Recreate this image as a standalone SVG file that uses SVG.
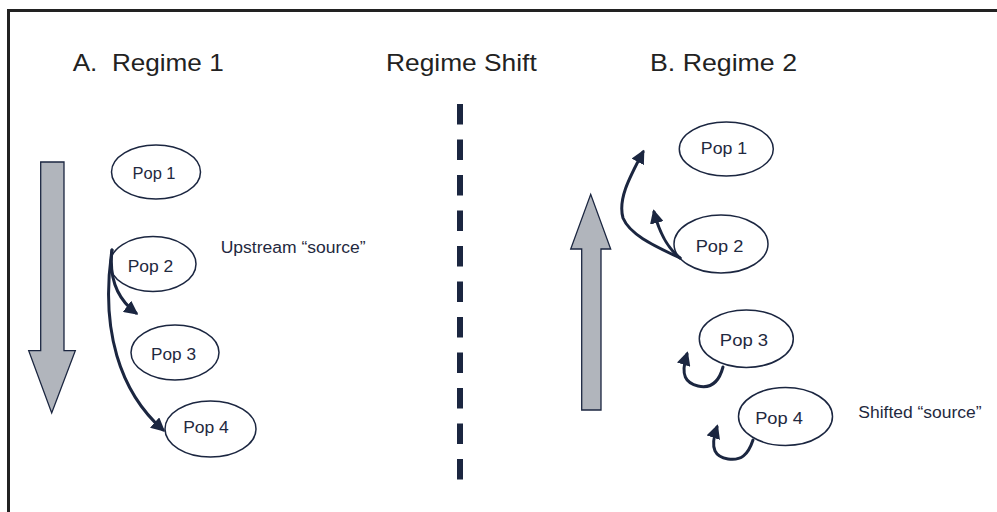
<svg xmlns="http://www.w3.org/2000/svg" width="997" height="512" viewBox="0 0 997 512">
<defs>
<style>
.title{font-family:"Liberation Sans",Arial,sans-serif;font-size:24px;fill:#222;}
.lbl{font-family:"Liberation Sans",Arial,sans-serif;font-size:16px;fill:#1f2940;}
.pop ellipse{fill:#fff;stroke:#1b2640;stroke-width:1.5;}
.pop text{font-family:"Liberation Sans",Arial,sans-serif;font-size:16px;fill:#1f2940;text-anchor:middle;}
.big{fill:#b1b5bc;stroke:#1b2640;stroke-width:1.3;}
.conn path{fill:none;stroke:#1b2640;stroke-width:3;stroke-linecap:round;marker-end:url(#ah);}
</style>
<marker id="ah" viewBox="0 0 10 10" refX="8" refY="5" markerWidth="14" markerHeight="14" markerUnits="userSpaceOnUse" orient="auto">
<path d="M0,0 L10,5 L0,10 z" fill="#1b2640"/>
</marker>
</defs>
<rect width="997" height="512" fill="#fff"/>
<rect x="8.5" y="10.5" width="1000" height="520" fill="none" stroke="#222" stroke-width="3"/>

<text class="title" x="72.7" y="70.7" xml:space="preserve" textLength="151" lengthAdjust="spacingAndGlyphs">A.  Regime 1</text>
<text class="title" x="386" y="70.7" textLength="150.7" lengthAdjust="spacingAndGlyphs">Regime Shift</text>
<text class="title" x="650" y="70.7" textLength="147" lengthAdjust="spacingAndGlyphs">B. Regime 2</text>

<line x1="460" y1="104" x2="460" y2="480" stroke="#1b2640" stroke-width="6" stroke-dasharray="20.5 15"/>

<polygon class="big" points="40.7,162 64,162 64,350.7 75.3,350.7 51.7,413 28.7,350.7 40.7,350.7"/>
<polygon class="big" points="581.7,410 601,410 601,249 610.7,249 590.7,194.3 570.7,249 581.7,249"/>

<text class="lbl" x="220.7" y="253" textLength="145" lengthAdjust="spacingAndGlyphs">Upstream “source”</text>
<text class="lbl" x="858.3" y="418" textLength="123.3" lengthAdjust="spacingAndGlyphs">Shifted “source”</text>

<g id="a-pop1" class="pop"><ellipse cx="156" cy="172" rx="44.5" ry="27"/><text x="154" y="179" textLength="43" lengthAdjust="spacingAndGlyphs">Pop 1</text></g>
<g id="a-pop2" class="pop"><ellipse cx="153" cy="264" rx="43" ry="27.5"/><text x="150.5" y="271.7" textLength="45.6" lengthAdjust="spacingAndGlyphs">Pop 2</text></g>
<g id="a-pop3" class="pop"><ellipse cx="175" cy="352.5" rx="44" ry="27.5"/><text x="173.5" y="360" textLength="45" lengthAdjust="spacingAndGlyphs">Pop 3</text></g>
<g id="a-pop4" class="pop"><ellipse cx="210.5" cy="429" rx="45.5" ry="28"/><text x="206" y="433" textLength="45.7" lengthAdjust="spacingAndGlyphs">Pop 4</text></g>

<g id="b-pop1" class="pop"><ellipse cx="726.3" cy="149" rx="47" ry="27"/><text x="724" y="154" textLength="46.3" lengthAdjust="spacingAndGlyphs">Pop 1</text></g>
<g id="b-pop2" class="pop"><ellipse cx="721" cy="244" rx="47" ry="29"/><text x="719.5" y="251.7" textLength="47.6" lengthAdjust="spacingAndGlyphs">Pop 2</text></g>
<g id="b-pop3" class="pop"><ellipse cx="746.3" cy="338.7" rx="47" ry="28.7"/><text x="744" y="346" textLength="48.3" lengthAdjust="spacingAndGlyphs">Pop 3</text></g>
<g id="b-pop4" class="pop"><ellipse cx="785.5" cy="416.5" rx="47" ry="29"/><text x="779" y="424" textLength="47.7" lengthAdjust="spacingAndGlyphs">Pop 4</text></g>

<g id="connectors" class="conn">
<path d="M112,250 C109,276 116,298 136,313"/>
<path d="M112,250 C100,330 120,392 163,430"/>
<path d="M680,258 C655,246 630,235 623,218 C618,200 628,180 643,152"/>
<path d="M680,258 C668,248 660,235 654,212"/>
<path d="M723,367 C719,382 711,389 698,386 C686,383 680,376 687,354"/>
<path d="M753,440 C748,455 741,461 728,459 C716,457 709,450 717,427"/>
</g>
</svg>
